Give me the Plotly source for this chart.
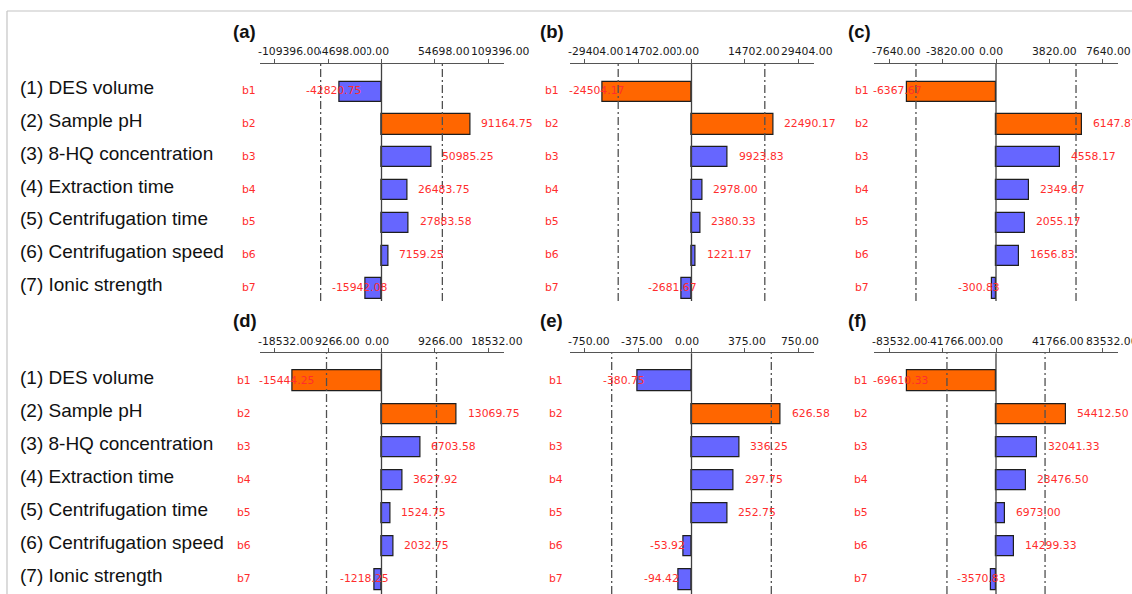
import plotly.graph_objects as go

# ---- data -------------------------------------------------------------
factors = [
    "(1) DES volume",
    "(2) Sample pH",
    "(3) 8-HQ concentration",
    "(4) Extraction time",
    "(5) Centrifugation time",
    "(6) Centrifugation speed",
    "(7) Ionic strength",
]
coef_names = ["b1", "b2", "b3", "b4", "b5", "b6", "b7"]
panel_titles = ["(a)", "(b)", "(c)", "(d)", "(e)", "(f)"]

effects_a = [-42820.75, 91164.75, 50985.25, 26483.75, 27883.58, 7159.25, -15942.08]
effects_b = [-24504.17, 22490.17, 9923.83, 2978.00, 2380.33, 1221.17, -2681.67]
effects_c = [-6367.67, 6147.87, 4558.17, 2349.67, 2055.17, 1656.83, -300.83]
effects_d = [-15444.25, 13069.75, 6703.58, 3627.92, 1524.75, 2032.75, -1218.25]
effects_e = [-380.75, 626.58, 336.25, 297.75, 252.75, -53.92, -94.42]
effects_f = [-69610.33, 54412.50, 32041.33, 23476.50, 6973.00, 14299.33, -3570.83]

ticks_a = [-109396.00, -54698.00, 0.00, 54698.00, 109396.00]
ticks_b = [-29404.00, -14702.00, 0.00, 14702.00, 29404.00]
ticks_c = [-7640.00, -3820.00, 0.00, 3820.00, 7640.00]
ticks_d = [-18532.00, -9266.00, 0.00, 9266.00, 18532.00]
ticks_e = [-750.00, -375.00, 0.00, 375.00, 750.00]
ticks_f = [-83532.00, -41766.00, 0.00, 41766.00, 83532.00]

# critical effect (significance limit) of each response
limits = [62400, 20200, 5730, 9550, 561, 38400]

effects = [effects_a, effects_b, effects_c, effects_d, effects_e, effects_f]
ticks = [ticks_a, ticks_b, ticks_c, ticks_d, ticks_e, ticks_f]

# ---- layout constants (pixels) ---------------------------------------
W, H = 1132, 594
COL_X = [(259.5, 503.5), (569.5, 813.5), (874.0, 1118.0)]
ROW_Y = [(64.0, 301.0), (353.3, 594.0)]
ROW_FIRST = [91.7, 381.0]      # centre of b1 row
ROW_STEP = [32.8, 33.1]        # row pitch
TICK_PX = 106.7                # distance of the outer tick from zero
COEF_X = [[241.5, 545.0, 855.0], [237.0, 549.0, 854.0]]
TITLE_X = [233.0, 540.0, 848.0]
TITLE_Y = [31.0, 320.0]
TICKLABEL_Y = [51.5, 341.0]

SIG_COLOR = "#ff6600"
NS_COLOR = "#6666ff"
RED = "#ff2d2d"
AX_COLOR = "#555555"
FONT = "DejaVu Sans"
SMALL = 10.8

fig = go.Figure()
shapes, annotations = [], []


def py(px):
    return 1 - px / H


def axis_ids(n):
    suffix = "" if n == 1 else str(n)
    return "x" + suffix, "y" + suffix, "xaxis" + suffix, "yaxis" + suffix


for k in range(6):
    r, c = divmod(k, 3)
    xa, ya, xkey, ykey = axis_ids(k + 1)
    vals = effects[k]
    tv = ticks[k]
    tmax = max(abs(t) for t in tv)
    half_px = (COL_X[c][1] - COL_X[c][0]) / 2
    span = tmax * half_px / TICK_PX

    top_px, bot_px = ROW_Y[r]
    y_top = (top_px - ROW_FIRST[r]) / ROW_STEP[r]
    y_bot = (bot_px - ROW_FIRST[r]) / ROW_STEP[r]

    colors = [SIG_COLOR if abs(v) > limits[k] else NS_COLOR for v in vals]
    fig.add_trace(go.Bar(
        x=vals, y=list(range(len(vals))), orientation="h", width=0.62,
        marker=dict(color=colors, line=dict(color="#1e1e1e", width=1.2)),
        xaxis=xa, yaxis=ya, showlegend=False, hoverinfo="x",
    ))

    fig.layout[xkey] = dict(
        domain=[COL_X[c][0] / W, COL_X[c][1] / W], range=[-span, span],
        side="top", anchor=ya, showline=True, linecolor=AX_COLOR, linewidth=1.2,
        ticks="outside", ticklen=4, tickwidth=1.2, tickcolor=AX_COLOR,
        tickvals=tv, showticklabels=False, showgrid=False, zeroline=False,
        fixedrange=True,
    )
    fig.layout[ykey] = dict(
        domain=[py(bot_px), py(top_px)], range=[y_bot, y_top], anchor=xa,
        visible=False, fixedrange=True,
    )

    # zero line and significance limits
    shapes.append(dict(type="line", xref=xa, yref=f"{ya} domain", x0=0, x1=0,
                       y0=0, y1=1, line=dict(color="#404040", width=1.3)))
    for s in (-1, 1):
        shapes.append(dict(type="line", xref=xa, yref=f"{ya} domain",
                           x0=s * limits[k], x1=s * limits[k], y0=0, y1=1,
                           line=dict(color="#505050", width=1.3,
                                     dash="8px,3px,2px,3px")))

    # tick labels, right to left so each one covers its right neighbour
    for t in reversed(tv):
        annotations.append(dict(
            xref=xa, yref="paper", x=t, y=py(TICKLABEL_Y[r]), xanchor="left",
            yanchor="middle", xshift=-17, text=f"{t:.2f}", showarrow=False,
            font=dict(family=FONT, size=SMALL, color="#1a1a1a"),
            bgcolor="white", borderpad=0, borderwidth=0,
        ))

    # panel letter
    annotations.append(dict(
        xref="paper", yref="paper", x=TITLE_X[c] / W, y=py(TITLE_Y[r]),
        xanchor="left", yanchor="middle", text=f"<b>{panel_titles[k]}</b>",
        showarrow=False, borderpad=0, borderwidth=0,
        font=dict(family="Liberation Sans", size=18.5, color="#111111"),
    ))

    for i, v in enumerate(vals):
        # coefficient name
        annotations.append(dict(
            xref="paper", yref=ya, x=COEF_X[r][c] / W, y=i, xanchor="left",
            yanchor="middle", text=coef_names[i], showarrow=False,
            borderpad=0, borderwidth=0, yshift=1,
            font=dict(family=FONT, size=SMALL, color=RED),
        ))
        # value label
        annotations.append(dict(
            xref=xa, yref=ya, x=v, y=i, xanchor="left", yanchor="middle",
            xshift=11 if v >= 0 else -34, yshift=1, text=f"{v:.2f}",
            showarrow=False, borderpad=0, borderwidth=0,
            font=dict(family=FONT, size=SMALL, color=RED),
        ))

# factor names on the left of each row of panels
for ya in ["y", "y4"]:
    for i, name in enumerate(factors):
        annotations.append(dict(
            xref="paper", yref=ya, x=20 / W, y=i, xanchor="left",
            yanchor="middle", yshift=4, text=name, showarrow=False,
            borderpad=0, borderwidth=0,
            font=dict(family="Liberation Sans", size=19, color="#111111"),
        ))

# thin frame along the top and left edges
shapes.append(dict(type="line", xref="paper", yref="paper", x0=7 / W, x1=1,
                   y0=py(11), y1=py(11), line=dict(color="#c4c4c4", width=1.2)))
shapes.append(dict(type="line", xref="paper", yref="paper", x0=7 / W, x1=7 / W,
                   y0=0, y1=py(11), line=dict(color="#c4c4c4", width=1.2)))

fig.update_layout(
    width=W, height=H, margin=dict(l=0, r=0, t=0, b=0),
    paper_bgcolor="white", plot_bgcolor="rgba(0,0,0,0)",
    shapes=shapes, annotations=annotations, bargap=0, showlegend=False,
)

fig.write_html("out.html")
